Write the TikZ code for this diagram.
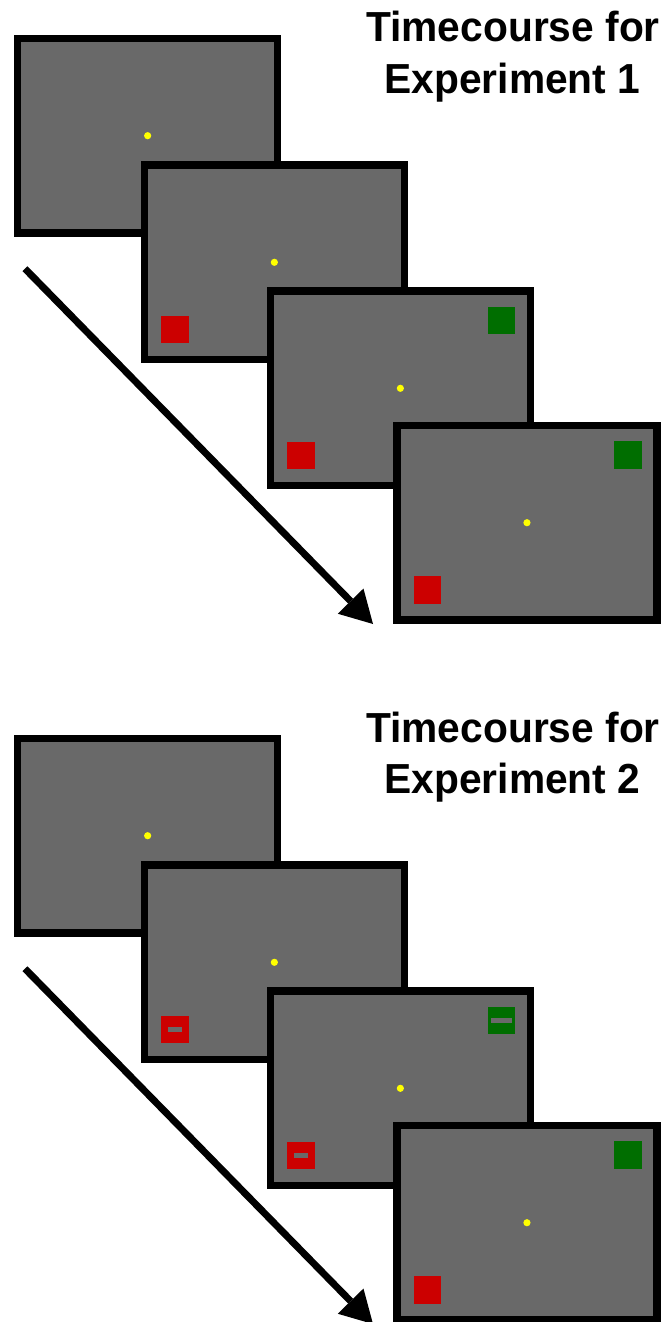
\documentclass[tikz,border=0pt]{standalone}
\usepackage{fontspec}
\setmainfont{Liberation Sans}
\usetikzlibrary{arrows.meta}
\definecolor{screengray}{RGB}{105,105,105}
\definecolor{targetred}{RGB}{204,0,0}
\definecolor{targetgreen}{RGB}{0,110,0}
\definecolor{fixyellow}{RGB}{255,255,0}
\tikzset{
  screenbox/.style={draw=black, fill=screengray, line width=7.3pt, line join=miter},
  fixdot/.style={fill=fixyellow},
  redsquare/.style={fill=targetred},
  greensquare/.style={fill=targetgreen},
  barmark/.style={fill=screengray},
  timearrow/.style={line width=7pt, line cap=butt, -{Triangle[length=32pt,width=36pt,line width=0pt]}},
  titletext/.style={anchor=base, inner sep=0pt, font=\fontsize{42}{50}\selectfont\bfseries},
  screen/.pic={
    \path[screenbox] (3.65,3.65) rectangle (263.65,198.35);
    \fill[fixdot] (133.65,101) circle[radius=3.6];
  },
  redtarget/.pic={\fill[redsquare] (20.5,154.5) rectangle ++(27.5,27.5);},
  greentarget/.pic={\fill[greensquare] (221,19.5) rectangle ++(27.5,27.5);},
  redbar/.pic={\fill[barmark] (27.25,165.9) rectangle ++(14,4.7);},
  greenbar/.pic={\fill[barmark] (224.25,30.9) rectangle ++(21,4.7);},
}
\begin{document}
\begin{tikzpicture}[x=1pt,y=-1pt]
\useasboundingbox (0,0) rectangle (671,1322);
% ---------- Experiment 1 ----------
\node[titletext] (t1a) at (513,42) {\scalebox{0.97}[1]{Timecourse for}};
\node[titletext] (t1b) at (512.5,93) {\scalebox{0.97}[1]{Experiment 1}};
\coordinate (a1s) at (25,268.7);
\coordinate (a1e) at (373,624);
\draw[timearrow] (a1s) -- (a1e);
\pic at (14,34.7) {screen};
\pic at (140.7,161.3) {screen};
\pic at (140.7,161.3) {redtarget};
\pic at (266.7,287.3) {screen};
\pic at (266.7,287.3) {redtarget};
\pic at (266.7,287.3) {greentarget};
\pic at (393.3,421.7) {screen};
\pic at (393.3,421.7) {redtarget};
\pic at (393.3,421.7) {greentarget};
% ---------- Experiment 2 ----------
\node[titletext] (t2a) at (513,742) {\scalebox{0.97}[1]{Timecourse for}};
\node[titletext] (t2b) at (512.5,793) {\scalebox{0.97}[1]{Experiment 2}};
\coordinate (a2s) at (25,968.7);
\coordinate (a2e) at (373,1324);
\draw[timearrow] (a2s) -- (a2e);
\pic at (14,734.7) {screen};
\pic at (140.7,861.3) {screen};
\pic at (140.7,861.3) {redtarget};
\pic at (140.7,861.3) {redbar};
\pic at (266.7,987.3) {screen};
\pic at (266.7,987.3) {redtarget};
\pic at (266.7,987.3) {redbar};
\pic at (266.7,987.3) {greentarget};
\pic at (266.7,987.3) {greenbar};
\pic at (393.3,1121.7) {screen};
\pic at (393.3,1121.7) {redtarget};
\pic at (393.3,1121.7) {greentarget};
\end{tikzpicture}
\end{document}
